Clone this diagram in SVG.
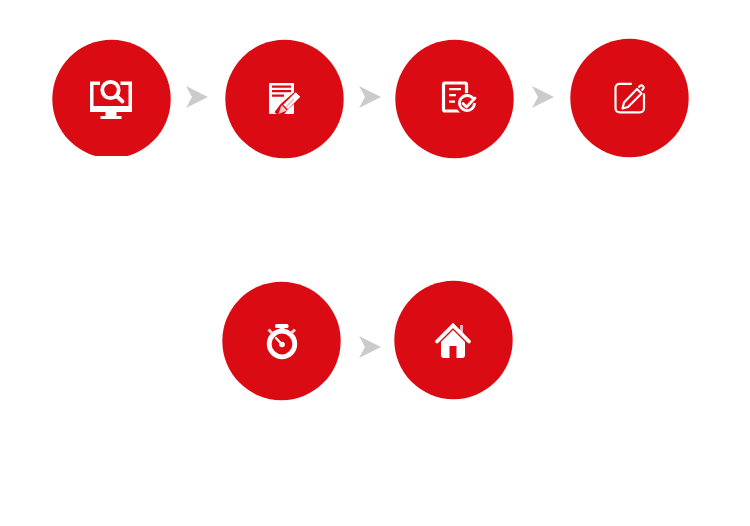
<svg xmlns="http://www.w3.org/2000/svg" width="750" height="526" viewBox="0 0 750 526">
<style>
.c{fill:#da0b13}
.w{fill:#fff}
.r{fill:#da0b13}
.s{fill:none;stroke:#fff;stroke-linecap:round;stroke-linejoin:round}
.a{fill:#cbcbcb}
</style>
<defs>
<polygon id="arr" points="0,-11 22,0 0,11 6,0"/>
<clipPath id="cut"><rect x="40" y="30" width="150" height="126"/></clipPath>
</defs>
<rect width="750" height="526" fill="#fff"/>
<g id="connectors">
<use href="#arr" class="a" x="186" y="97"/>
<use href="#arr" class="a" x="359" y="97"/>
<use href="#arr" class="a" x="532" y="97"/>
<use href="#arr" class="a" x="359" y="347"/>
</g>
<g id="node1">
<circle class="c" cx="111.500" cy="99" r="59.200" clip-path="url(#cut)"/>
<path class="w" d="M90 81.500h10v3.500h-6.500v21h35V85h-8v-3.500h11.500V112H90z"/>
<path class="w" d="M105.500 112h11v4h5v3h-21v-3h5z"/>
<circle cx="110.500" cy="90" r="8.200" fill="#da0b13" stroke="#fff" stroke-width="3.800"/>
<path class="s" stroke-width="3.800" d="M116.500 96l6 5.500"/>
</g>
<g id="node2">
<circle class="c" cx="284.500" cy="99" r="59.200"/>
<rect class="w" x="269" y="83" width="25" height="31" rx="1"/>
<path class="r" d="M272 85.500h19v2.300h-19zM272 90h19v2.300h-19zM272 94.500h12v2.300h-12z"/>
<path d="M301 92L284 107l-6 8" fill="none" stroke="#da0b13" stroke-width="9"/>
<path d="M298 94.500L285.500 107" fill="none" stroke="#fff" stroke-width="6.500"/>
<path d="M281.500 105l5.500 5.500-8.500 3.500z" fill="#f6c9cb"/>
<path d="M286 107l8-8" fill="none" stroke="#f7c3c5" stroke-width="1.800"/>
</g>
<g id="node3">
<circle class="c" cx="454.500" cy="99" r="59.200"/>
<rect x="443.500" y="83" width="23" height="28" rx="1.500" fill="none" stroke="#fff" stroke-width="3.200"/>
<path class="w" d="M449 88h12v2.300h-12zM449 94h7v2.300h-7zM449 100.500h6v2.300h-6z"/>
<circle cx="467" cy="104" r="11" fill="#da0b13"/>
<path d="M473 98.500A7.500 7.500 0 1 0 474.500 103" fill="none" stroke="#fff" stroke-width="2.800"/>
<path class="s" stroke-width="2.800" d="M463 103.500l3.500 3.500 8.500-9"/>
</g>
<g id="node4">
<circle class="c" cx="629.500" cy="98" r="59.200"/>
<path class="s" stroke-width="2.200" d="M631 83.800h-11.500a4 4 0 0 0-4 4v20.500a4 4 0 0 0 4 4h20.500a4 4 0 0 0 4-4v-14"/>
<path d="M624 102.500l13-13.500 4.500 4.500L628 107l-5.500 1.500zM638.500 87.500l1.500-1.500a2 2 0 0 1 3 3l-1.500 1.500" fill="none" stroke="#fff" stroke-width="2.200" stroke-linejoin="round"/>
</g>
<g id="node5">
<circle class="c" cx="281.500" cy="341" r="59.200"/>
<circle cx="282" cy="344" r="12.800" fill="none" stroke="#fff" stroke-width="4.800"/>
<rect class="w" x="275" y="324" width="13.500" height="4" rx="1.500"/>
<rect class="w" x="279.500" y="327" width="5" height="4"/>
<path d="M268.500 329.500l4 4M295 329.500l-4 4" fill="none" stroke="#f9d5d6" stroke-width="3"/>
<path class="s" stroke-width="2.400" d="M276 338l5.500 6"/>
<circle class="w" cx="282" cy="344.500" r="2.800"/>
</g>
<g id="node6">
<circle class="c" cx="453.500" cy="340" r="59.200"/>
<rect x="460" y="325" width="3" height="8" fill="#f3aeb1"/>
<path d="M441 342l12-12 12 12v13a3 3 0 0 1-3 3h-18a3 3 0 0 1-3-3z" class="w"/>
<rect class="r" x="449.500" y="346" width="7" height="12"/>
<path d="M437 341.500l16-16 16 16" fill="none" stroke="#fff" stroke-width="3.800" stroke-linecap="round"/>
</g>
</svg>
